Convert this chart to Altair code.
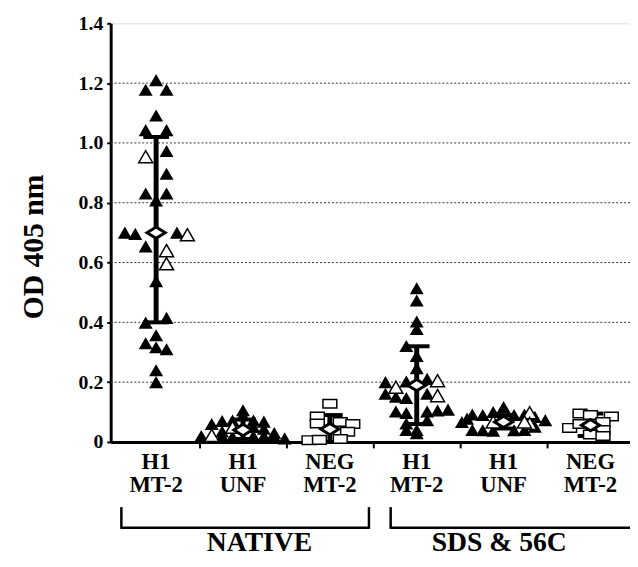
import altair as alt
import pandas as pd

# ---------------- data ----------------
group_top = ["H1", "H1", "NEG", "H1", "H1", "NEG"]
group_bottom = ["MT-2", "UNF", "MT-2", "MT-2", "UNF", "MT-2"]
group_marker = ["triangle", "triangle", "square", "triangle", "triangle", "square"]

treatments = ["NATIVE", "SDS & 56C"]
treatment_start = [0.1, 3.2]
treatment_end = [2.95, 5.98]
treatment_label_x = [1.69, 4.45]

means = [0.70, 0.040, 0.043, 0.19, 0.067, 0.056]
bar_low = [0.40, 0.010, 0.000, 0.06, 0.045, 0.020]
bar_high = [1.02, 0.075, 0.090, 0.32, 0.090, 0.095]

# each point: value, column slot within the group, open symbol (1) or filled (0)
g1_values = [1.21, 1.178, 1.178, 1.092, 1.043, 1.043, 0.973, 0.897, 0.831, 0.831, 0.808,
             0.700, 0.696, 0.700, 0.654, 0.538, 0.399, 0.415, 0.357, 0.330, 0.317, 0.310,
             0.240, 0.200, 0.954, 0.693, 0.640, 0.596]
g1_slots = [0, -1, 1, 0, -1, 1, 1, 1, -1, 1, 0,
            -3, -2, 2, -1, 0, -1, 1, 0, -1, 0, 1,
            0, 0, -1, 3, 1, 1]
g1_open = [0] * 24 + [1] * 4

g2_values = [0.106, 0.090, 0.070, 0.072, 0.072, 0.068, 0.049, 0.050, 0.044, 0.035,
             0.020, 0.022, 0.020, 0.018, 0.020, 0.020, 0.018, 0.012, 0.030, 0.060]
g2_slots = [0, 0, -2, -1, 1, 2, -1, 1, 2, -2,
            -4, -3, -2, -1, 1, 2, 3, 4, 3, -3]
g2_open = [0, 0, 0, 0, 0, 0, 1, 0, 0, 0,
           0, 1, 0, 0, 0, 0, 0, 0, 0, 0]

g3_values = [0.128, 0.085, 0.062, 0.067, 0.060, 0.034, 0.006, 0.007, 0.010]
g3_slots = [0, -1.2, -1.2, 1, 2.2, 1.7, -2, -1, 1]
g3_open = [1] * 9

g4_values = [0.514, 0.473, 0.403, 0.378, 0.321, 0.288, 0.247, 0.200, 0.202, 0.211,
             0.161, 0.151, 0.147, 0.161, 0.102, 0.097, 0.102, 0.105, 0.108, 0.062,
             0.040, 0.040, 0.073, 0.029, 0.183, 0.205, 0.155]
g4_slots = [0, 0, 0, 0, -1, 0, 0, -3, -1, 1,
            -3, -2, -1, 1, -2, -1, 1, 2, 3, -1,
            -1, 0, 1, 0, -2, 2, 2]
g4_open = [0] * 24 + [1] * 3

g5_values = [0.117, 0.078, 0.092, 0.090, 0.100, 0.090, 0.092, 0.084, 0.073, 0.040,
             0.039, 0.038, 0.039, 0.040, 0.067, 0.051, 0.098, 0.062, 0.067, 0.067]
g5_slots = [0, -3.5, -3, -2, -1, 1, 2, 3, 4, -3,
            -2, -1, 1, 2, -4, 3, 2.5, 2.5, -1, 2]
g5_open = [0] * 16 + [1] * 4

g6_values = [0.095, 0.090, 0.085, 0.047, 0.067, 0.040, 0.025, 0.020, 0.060]
g6_slots = [-1, 0, 2, -2, 1.2, 1.2, 0, 1.2, -1]
g6_open = [1] * 9

y_ticks = [0, 0.2, 0.4, 0.6, 0.8, 1.0, 1.2, 1.4]
grid_values = [0.2, 0.4, 0.6, 0.8, 1.0, 1.2]

# ---------------- tables ----------------
SLOT = 0.12
all_values = [g1_values, g2_values, g3_values, g4_values, g5_values, g6_values]
all_slots = [g1_slots, g2_slots, g3_slots, g4_slots, g5_slots, g6_slots]
all_open = [g1_open, g2_open, g3_open, g4_open, g5_open, g6_open]

rows = []
for gi in range(6):
    for v, s, o in zip(all_values[gi], all_slots[gi], all_open[gi]):
        if group_marker[gi] == "square":
            kind = "square"
        else:
            kind = "open" if o else "filled"
        rows.append({"x": gi + 0.5 + s * SLOT, "v": v, "kind": kind})
pts = pd.DataFrame(rows)

summ = pd.DataFrame({
    "x": [i + 0.5 for i in range(6)],
    "mean": means, "low": bar_low, "high": bar_high,
    "top": group_top, "bottom": group_bottom,
})
grid_df = pd.DataFrame({"g": grid_values})
treat_df = pd.DataFrame({
    "name": treatments, "start": treatment_start, "end": treatment_end,
    "mid": treatment_label_x,
})

FONT = "Liberation Serif"
xscale = alt.Scale(domain=[-0.023, 5.955], nice=False, zero=False)
yscale = alt.Scale(domain=[0, 1.4], nice=False)

x_axis = alt.Axis(values=[1, 2, 3, 4, 5], labels=False, title=None, grid=False,
                  tickSize=6, tickWidth=2, tickColor="black",
                  domainWidth=3, domainColor="black")
y_axis = alt.Axis(values=y_ticks, grid=False, title="OD 405 nm",
                  labelExpr="datum.value == 0 ? '0' : format(datum.value, '.1f')",
                  labelFont=FONT, labelFontWeight="bold", labelFontSize=20,
                  labelColor="black", labelPadding=4,
                  tickSize=4, tickWidth=2, tickColor="black",
                  domainWidth=3, domainColor="black",
                  titleFont=FONT, titleFontWeight="bold", titleFontSize=30,
                  titleColor="black", titleAngle=-90, titleAlign="center",
                  titleBaseline="middle", titleX=-78, titleY=226)

grid = alt.Chart(grid_df).mark_rule(color="#333", strokeWidth=1, strokeDash=[2, 2]).encode(
    y=alt.Y("g:Q", scale=yscale, axis=y_axis)
)

base_pts = alt.Chart(pts)
filled = base_pts.transform_filter(alt.datum.kind == "filled").mark_point(
    shape="triangle-up", size=200, filled=True, color="black", opacity=1
).encode(x=alt.X("x:Q", scale=xscale, axis=x_axis), y=alt.Y("v:Q", scale=yscale))
opens = base_pts.transform_filter(alt.datum.kind == "open").mark_point(
    shape="triangle-up", size=200, filled=True, fill="white", stroke="black",
    strokeWidth=1.5, opacity=1
).encode(x=alt.X("x:Q", scale=xscale), y=alt.Y("v:Q", scale=yscale))
squares = base_pts.transform_filter(alt.datum.kind == "square").mark_point(
    shape="M-1,-0.62L1,-0.62L1,0.62L-1,0.62Z", size=196, filled=True, fill="white",
    stroke="black", strokeWidth=1.5, opacity=1
).encode(x=alt.X("x:Q", scale=xscale), y=alt.Y("v:Q", scale=yscale))

sb = alt.Chart(summ)
bars = sb.mark_rule(color="black", strokeWidth=5).encode(
    x=alt.X("x:Q", scale=xscale), y=alt.Y("low:Q", scale=yscale), y2="high:Q"
)
cap_hi = sb.mark_tick(orient="horizontal", color="black", size=26, thickness=4, opacity=1).encode(
    x=alt.X("x:Q", scale=xscale), y=alt.Y("high:Q", scale=yscale)
)
cap_lo = sb.mark_tick(orient="horizontal", color="black", size=26, thickness=4, opacity=1).encode(
    x=alt.X("x:Q", scale=xscale), y=alt.Y("low:Q", scale=yscale)
)
diamonds = sb.mark_point(
    shape="M-1,0L0,-0.62L1,0L0,0.62Z", size=340, filled=True, fill="white",
    stroke="black", strokeWidth=3, opacity=1
).encode(x=alt.X("x:Q", scale=xscale), y=alt.Y("mean:Q", scale=yscale))

lab_top = sb.mark_text(font=FONT, fontWeight="bold", fontSize=23, color="black",
                       baseline="middle", align="center").encode(
    x=alt.X("x:Q", scale=xscale), y=alt.value(444), text="top:N")
lab_bot = sb.mark_text(font=FONT, fontWeight="bold", fontSize=23, color="black",
                       baseline="middle", align="center").encode(
    x=alt.X("x:Q", scale=xscale), y=alt.value(468), text="bottom:N")

tb = alt.Chart(treat_df)
br_h = tb.mark_rule(color="black", strokeWidth=2.5).encode(
    x=alt.X("start:Q", scale=xscale), x2="end:Q", y=alt.value(511))
br_l = tb.mark_rule(color="black", strokeWidth=2.5).encode(
    x=alt.X("start:Q", scale=xscale), y=alt.value(490), y2=alt.value(512))
br_r = tb.mark_rule(color="black", strokeWidth=2.5).encode(
    x=alt.X("end:Q", scale=xscale), y=alt.value(490), y2=alt.value(512))
tlab = tb.mark_text(font=FONT, fontWeight="bold", fontSize=28, color="black",
                    baseline="middle", align="center").encode(
    x=alt.X("mid:Q", scale=xscale), y=alt.value(526), text="name:N")

chart = alt.layer(
    grid, bars, cap_hi, cap_lo, filled, opens, squares, diamonds,
    lab_top, lab_bot, br_h, br_l, br_r, tlab
).properties(
    width=526, height=424,
    autosize=alt.AutoSizeParams(type="none"),
    padding={"left": 104, "top": 12, "right": 0, "bottom": 115},
).configure_view(stroke=None).configure(background="white")

chart.save("out.html", embed_options={"renderer": "svg", "actions": False})
